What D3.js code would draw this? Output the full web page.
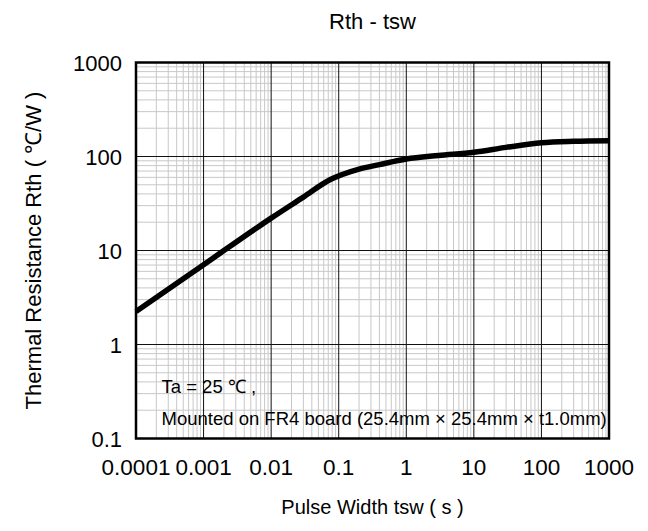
<!DOCTYPE html>
<html>
<head>
<meta charset="utf-8">
<script src="https://cdn.jsdelivr.net/npm/d3@7"></script>
<style>
  body { margin: 0; background: #fff; }
  text { font-family: "Liberation Sans", Arial, sans-serif; fill: #000; }
</style>
</head>
<body>
<svg id="chart" width="648" height="531"></svg>
<script>
// pulse width (s) and thermal resistance (°C/W)
const pulseWidth = [0.0001, 0.001, 0.01, 0.03, 0.074, 0.2, 0.4, 1, 3, 10, 30, 100, 300, 1000];
const rth        = [2.24, 7.05, 22.1, 37, 56.5, 73.5, 82, 94, 102.5, 111, 125, 140, 145, 147];

const xTicks = [0.0001, 0.001, 0.01, 0.1, 1, 10, 100, 1000];
const xTickLabels = ["0.0001", "0.001", "0.01", "0.1", "1", "10", "100", "1000"];
const yTicks = [0.1, 1, 10, 100, 1000];
const yTickLabels = ["0.1", "1", "10", "100", "1000"];

const margin = {top: 62.5, right: 39, bottom: 92.5, left: 136};
const width = 648 - margin.left - margin.right;
const height = 531 - margin.top - margin.bottom;

const svg = d3.select("#chart");
const g = svg.append("g").attr("transform", `translate(${margin.left},${margin.top})`);

const x = d3.scaleLog().domain([0.0001, 1000]).range([0, width]);
const y = d3.scaleLog().domain([0.1, 1000]).range([height, 0]);

// minor grid
const minorX = [], minorY = [];
for (let e = -4; e < 3; e++) for (let k = 2; k < 10; k++) minorX.push(k * Math.pow(10, e));
for (let e = -1; e < 3; e++) for (let k = 2; k < 10; k++) minorY.push(k * Math.pow(10, e));

g.selectAll(".mx").data(minorX).join("line")
    .attr("x1", d => x(d)).attr("x2", d => x(d))
    .attr("y1", 0).attr("y2", height)
    .attr("stroke", "#c8c8c8").attr("stroke-width", 1);
g.selectAll(".my").data(minorY).join("line")
    .attr("y1", d => y(d)).attr("y2", d => y(d))
    .attr("x1", 0).attr("x2", width)
    .attr("stroke", "#c8c8c8").attr("stroke-width", 1);

// major grid
g.selectAll(".Mx").data(xTicks).join("line")
    .attr("x1", d => x(d)).attr("x2", d => x(d))
    .attr("y1", 0).attr("y2", height)
    .attr("stroke", "#111").attr("stroke-width", 1);
g.selectAll(".My").data(yTicks).join("line")
    .attr("y1", d => y(d)).attr("y2", d => y(d))
    .attr("x1", 0).attr("x2", width)
    .attr("stroke", "#111").attr("stroke-width", 1);

// frame
g.append("rect").attr("width", width).attr("height", height)
    .attr("fill", "none").attr("stroke", "#000").attr("stroke-width", 2.5);

// curve
const line = d3.line()
    .x((d, i) => x(pulseWidth[i]))
    .y(d => y(d))
    .curve(d3.curveMonotoneX);
g.append("path").datum(rth)
    .attr("d", line)
    .attr("fill", "none").attr("stroke", "#000").attr("stroke-width", 5.5);

// tick labels
g.selectAll(".xl").data(xTicks).join("text")
    .attr("x", d => x(d)).attr("y", height + 36)
    .attr("text-anchor", "middle").attr("font-size", 22.5)
    .text((d, i) => xTickLabels[i]);
g.selectAll(".yl").data(yTicks).join("text")
    .attr("x", -14).attr("y", d => y(d) + 8)
    .attr("text-anchor", "end").attr("font-size", 22)
    .text((d, i) => yTickLabels[i]);

// annotation
g.append("text").attr("x", 25.5).attr("y", y(0.1) - 46).attr("font-size", 18.5)
    .text("Ta = 25 \u2103 ,");
g.append("text").attr("x", 25.5).attr("y", y(0.1) - 14).attr("font-size", 18.5)
    .text("Mounted on FR4 board (25.4mm \u00d7 25.4mm \u00d7 t1.0mm)");

// titles
svg.append("text").attr("x", margin.left + width / 2).attr("y", 29)
    .attr("text-anchor", "middle").attr("font-size", 22).text("Rth - tsw");
svg.append("text").attr("x", margin.left + width / 2).attr("y", 514)
    .attr("text-anchor", "middle").attr("font-size", 20).text("Pulse Width tsw ( s )");
svg.append("text")
    .attr("transform", `translate(41,${margin.top + height / 2}) rotate(-90)`)
    .attr("text-anchor", "middle").attr("font-size", 22)
    .text("Thermal Resistance Rth ( \u2103/W )");
</script>
</body>
</html>
